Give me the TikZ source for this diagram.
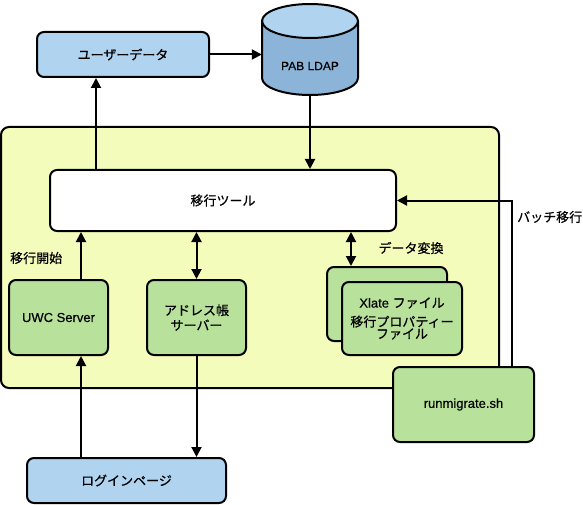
\documentclass[tikz,border=0pt]{standalone}
\usepackage{fontspec}
\setmainfont[FakeBold=0.4]{Liberation Sans}
\newfontfamily\jp[FakeBold=0.6]{Noto Sans CJK JP}
\usetikzlibrary{arrows.meta}
\definecolor{bluef}{RGB}{176,212,240}
\definecolor{cylbody}{RGB}{140,180,216}
\definecolor{greenf}{RGB}{184,226,155}
\definecolor{yellowf}{RGB}{244,252,188}
\tikzset{
  box/.style={draw=black, line width=2pt, rounded corners=7pt, inner sep=0pt, align=center,
    font=\fontsize{13}{16}\selectfont},
  bluebox/.style={box, fill=bluef},
  greenbox/.style={box, fill=greenf},
  arr/.style={line width=2pt, -{Triangle[length=10pt,width=10pt]}},
  darr/.style={line width=2pt, {Triangle[length=10pt,width=10pt]}-{Triangle[length=10pt,width=10pt]}},
  lbl/.style={font=\fontsize{13}{16}\selectfont\jp, inner sep=0pt}
}
\begin{document}
\begin{tikzpicture}[x=1pt,y=-1pt]
\useasboundingbox (0,0) rectangle (583,505);
% container
\node[box, fill=yellowf, rounded corners=8pt, minimum width=498pt, minimum height=261pt] (cont) at (250,257.5) {};
% user data
\node[bluebox, minimum width=172pt, minimum height=45pt] (ud) at (123,54.5) {\jp ユーザーデータ};
% cylinder
\fill[cylbody] (262,21) -- (262,78) arc[start angle=180, end angle=360, x radius=48pt, y radius=17pt] -- (358,21) -- cycle;
\fill[bluef] (310,21) ellipse[x radius=48pt, y radius=17pt];
\draw[line width=2pt] (262,21) -- (262,78) arc[start angle=180, end angle=360, x radius=48pt, y radius=17pt] -- (358,21);
\draw[line width=2pt] (310,21) ellipse[x radius=48pt, y radius=17pt];
\node[minimum width=96pt, minimum height=74pt, inner sep=0pt, font=\fontsize{12}{14}\selectfont] (db) at (310,58) {};
\node[inner sep=0pt, font=\fontsize{12}{14}\selectfont] (dbl) at (310,66) {PAB LDAP};
% tool
\node[box, fill=white, minimum width=346pt, minimum height=61pt] (tool) at (223,200.5) {\jp 移行ツール};
% servers
\node[greenbox, minimum width=99pt, minimum height=75pt] (uwc) at (58.5,317.5) {UWC Server};
\node[greenbox, minimum width=99pt, minimum height=75pt] (addr) at (196.5,317.5) {\jp アドレス帳\\[-1pt]\jp サーバー};
% login
\node[bluebox, minimum width=199pt, minimum height=45pt] (login) at (126.5,480.5) {\jp ログインページ};
% files
\node[greenbox, minimum width=120pt, minimum height=74pt] (fback) at (387,304) {};
\node[greenbox, minimum width=120pt, minimum height=73pt, font=\fontsize{13}{12}\selectfont] (ffront) at (402,318.5) {Xlate {\jp ファイル}\\[7pt]\jp 移行プロパティー\\\jp ファイル};
% runmigrate
\node[greenbox, minimum width=141pt, minimum height=75pt] (run) at (463.5,404.5) {runmigrate.sh};
% helper coordinates
\coordinate (x96) at (96,0);
\coordinate (x81) at (81,0);
\coordinate (x351) at (351,0);
\coordinate (x512) at (512,0);
% labels
\node[lbl, anchor=west] (lstart) at (10,258) {移行開始};
\node[lbl] (lconv) at (411,248) {データ変換};
\node[lbl, anchor=west] (lbatch) at (517,217) {バッチ移行};
% connectors
\draw[arr] (ud.east) -- (ud.east -| db.west);
\draw[arr] (db.south) -- (tool.north -| db.south);
\draw[arr] (tool.north -| x96) -- (ud.south -| x96);
\draw[arr] (uwc.north -| x81) -- (tool.south -| x81);
\draw[darr] (tool.south -| addr.north) -- (addr.north);
\draw[arr] (login.north -| x81) -- (uwc.south -| x81);
\draw[arr] (addr.south) -- (login.north -| addr.south);
\draw[darr] (tool.south -| x351) -- (fback.north -| x351);
\draw[arr] (run.north -| x512) |- (tool.east);
\end{tikzpicture}
\end{document}
